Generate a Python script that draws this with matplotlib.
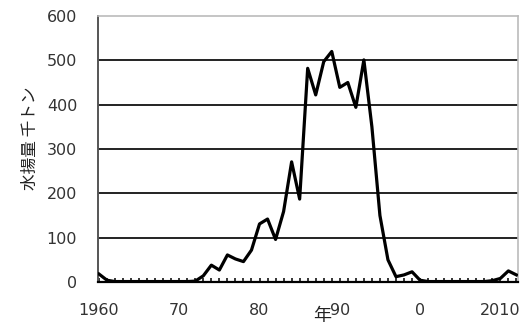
import matplotlib
matplotlib.use("Agg")
import matplotlib.pyplot as plt
from matplotlib.ticker import MultipleLocator

# 年ごとの水揚量（千トン）
years = list(range(1960, 2013))
catch = [18, 4, 1, 1, 1, 1, 1, 1, 1, 1,
         1, 1, 2, 14, 38, 27, 61, 52, 46, 72,
         131, 142, 96, 159, 271, 187, 482, 422, 497, 520,
         439, 450, 394, 501, 350, 150, 50, 12, 16, 23,
         4, 1, 1, 1, 1, 1, 1, 1, 1, 3,
         8, 25, 16]

xtick_pos = [1960, 1970, 1980, 1990, 2000, 2010]
xtick_lab = ["1960", "70", "80", "90", "0", "2010"]
yticks = [0, 100, 200, 300, 400, 500, 600]

jp = ["Noto Sans CJK JP", "DejaVu Sans"]

fig = plt.figure(figsize=(5.22, 3.27), dpi=100)
ax = fig.add_axes([98 / 522, 45 / 327, 420 / 522, 266 / 327])

for v in yticks[1:-1]:
    ax.axhline(v, color="#222222", lw=1.4, zorder=1)

ax.plot(years, catch, color="black", lw=2.3, solid_joinstyle="round", zorder=3)

ax.set_xlim(1959.88, 2012.2)
ax.set_ylim(0, 600)
ax.set_xticks(xtick_pos)
ax.set_xticklabels(xtick_lab)
ax.xaxis.set_minor_locator(MultipleLocator(1))
ax.set_yticks(yticks)

ax.tick_params(axis="x", which="both", direction="in", length=3, width=1.1,
               color="black", pad=15, labelsize=11.5, labelcolor="#333333")
ax.tick_params(axis="y", length=0, pad=15, labelsize=11.5, labelcolor="#333333")

ax.spines["bottom"].set_color("black")
ax.spines["bottom"].set_linewidth(1.6)
ax.spines["left"].set_color("#555555")
ax.spines["left"].set_linewidth(1.4)
for s in ["top", "right"]:
    ax.spines[s].set_color("#bbbbbb")
    ax.spines[s].set_linewidth(1.2)

fig.text(30 / 522, 1 - 138 / 327, "水揚量 千トン", rotation=90, ha="center",
         va="center", fontsize=12, family=jp, color="#222222")
fig.text(322 / 522, 1 - 316 / 327, "年", ha="center", va="center",
         fontsize=13, family=jp, color="#222222")

fig.savefig("out.png", dpi=100)
